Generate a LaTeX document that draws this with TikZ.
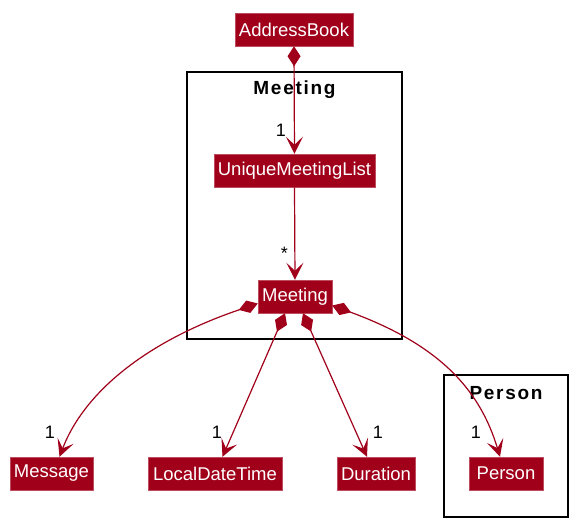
\documentclass[tikz,border=0pt]{standalone}
\usepackage{fontspec}
\setmainfont{Liberation Sans}
\usetikzlibrary{arrows.meta}
\definecolor{mred}{HTML}{A0001A}
\tikzset{
  cls/.style={rectangle, fill=mred, draw=mred!70!white, line width=0.5pt, text=white, inner sep=0pt,
              minimum height=33pt, font=\fontsize{18.5}{20}\selectfont},
  pkg/.style={draw=black, line width=1.6pt},
  pkgtitle/.style={font=\fontsize{19}{20}\selectfont\bfseries\addfontfeatures{LetterSpace=9}},
  mult/.style={font=\fontsize{18}{20}\selectfont, inner sep=0pt},
  rel/.style={draw=mred, line width=1.2pt,
              {Diamond[length=20pt,width=13pt,fill=mred]}-{Stealth[length=17pt,width=17pt,inset=8pt]}},
  dep/.style={draw=mred, line width=1.2pt, -{Stealth[length=17pt,width=17pt,inset=8pt]}}
}
\begin{document}
\begin{tikzpicture}[x=1pt,y=-1pt]
\useasboundingbox (0,0) rectangle (582,531);
% packages
\draw[pkg] (187,72) rectangle (402,339);
\node[pkgtitle] (mtitle) at (294.5,90) {Meeting};
\draw[pkg] (444,375) rectangle (568,517);
\node[pkgtitle] (ptitle) at (506,393) {Person};
% classes
\node[cls, minimum width=118pt] (ab) at (294,29.5) {AddressBook};
\node[cls, minimum width=161pt] (uml) at (294.5,170.5) {UniqueMeetingList};
\node[cls, minimum width=74pt] (meet) at (295,296.5) {Meeting};
\node[cls, minimum width=83pt] (msg) at (51.5,473.5) {Message};
\node[cls, minimum width=134pt] (ldt) at (215,473.5) {LocalDateTime};
\node[cls, minimum width=78pt] (dur) at (376,473.5) {Duration};
\node[cls, minimum width=74pt] (per) at (506,473.5) {Person};
% relations
\draw[rel] (ab.south) -- (uml.north);
\node[mult] (m1) at (281,130) {1};
\draw[dep] (uml.south) -- (meet.north);
\node[mult] (m2) at (284.5,253) {*};
\draw[rel] ([yshift=-7pt]meet.west) .. controls (150,340) and (85,390) .. ([xshift=8pt]msg.north);
\node[mult] (m3) at (50,432) {1};
\draw[rel] ([xshift=-10pt]meet.south) -- ([xshift=7.5pt]ldt.north);
\node[mult] (m4) at (217,432) {1};
\draw[rel] ([xshift=8pt]meet.south) -- ([xshift=-9pt]dur.north);
\node[mult] (m5) at (378,432) {1};
\draw[rel] ([yshift=-9pt]meet.east) .. controls (440,345) and (480,390) .. ([xshift=-6pt]per.north);
\node[mult] (m6) at (476,432) {1};
\end{tikzpicture}
\end{document}
